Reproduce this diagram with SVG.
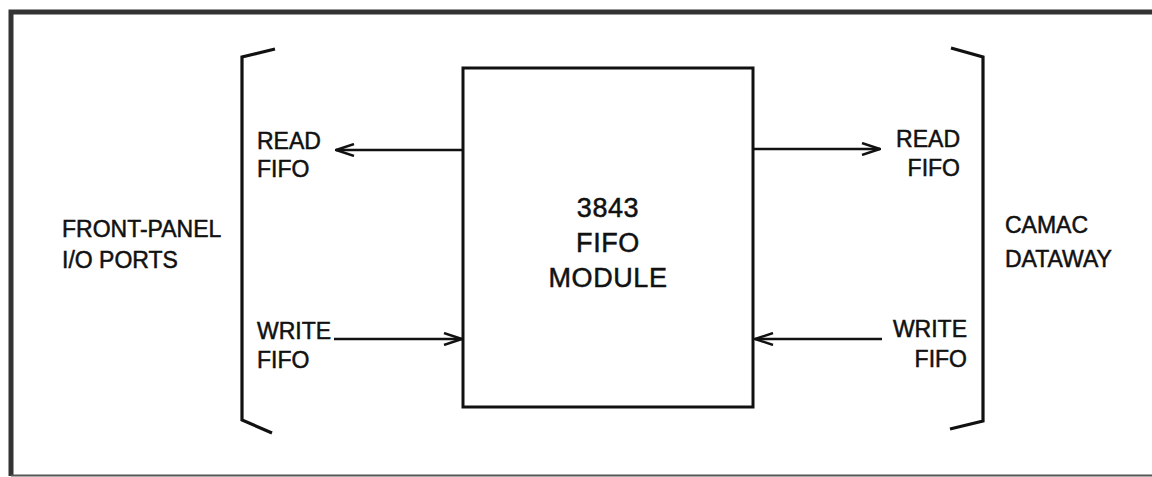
<svg xmlns="http://www.w3.org/2000/svg" width="1152" height="477" viewBox="0 0 1152 477">
<defs>
<marker id="arr" viewBox="0 0 20 14" refX="19" refY="7" markerWidth="20" markerHeight="14" markerUnits="userSpaceOnUse" orient="auto">
<path d="M1,1 L19,7 L1,13" fill="none" stroke="#111" stroke-width="2.4"/>
</marker>
</defs>
<style>
.t{font-family:"Liberation Sans",Arial,sans-serif;font-size:23px;fill:#111;stroke:#111;stroke-width:0.5px}
.big{font-size:27px;letter-spacing:0.6px}
.br{fill:none;stroke:#111;stroke-width:3.2;stroke-linejoin:miter}
.c{fill:none;stroke:#111;stroke-width:2.5}
</style>
<rect width="1152" height="477" fill="#fff"/>
<g id="frame">
<path d="M1152,12 H11 V476" fill="none" stroke="#333" stroke-width="5"/>
<path d="M11,475.5 H1152" fill="none" stroke="#555" stroke-width="2"/>
</g>
<g id="left-bracket">
<path class="br" d="M275,49 L242,57 V420 L272,433"/>
<text class="t" x="62" y="237">FRONT-PANEL</text>
<text class="t" x="62" y="268">I/O PORTS</text>
</g>
<g id="right-bracket">
<path class="br" d="M951,48 L983,57 V421 L950,429"/>
<text class="t" x="1005" y="233">CAMAC</text>
<text class="t" x="1005" y="267">DATAWAY</text>
</g>
<g id="module">
<rect x="463" y="68" width="290" height="339" fill="none" stroke="#111" stroke-width="3"/>
<text class="t big" x="608" y="217" text-anchor="middle">3843</text>
<text class="t big" x="608" y="252" text-anchor="middle">FIFO</text>
<text class="t big" x="608" y="287" text-anchor="middle">MODULE</text>
</g>
<g id="labels-left">
<text class="t" x="257" y="149">READ</text>
<text class="t" x="257" y="177">FIFO</text>
<text class="t" x="257" y="339">WRITE</text>
<text class="t" x="257" y="368">FIFO</text>
</g>
<g id="labels-right">
<text class="t" x="960" y="147" text-anchor="end">READ</text>
<text class="t" x="960" y="176" text-anchor="end">FIFO</text>
<text class="t" x="967" y="337" text-anchor="end">WRITE</text>
<text class="t" x="967" y="367" text-anchor="end">FIFO</text>
</g>
<g id="connectors">
<line class="c" x1="463" y1="150" x2="336" y2="150" marker-end="url(#arr)"/>
<line class="c" x1="753" y1="149" x2="880" y2="149" marker-end="url(#arr)"/>
<line class="c" x1="334" y1="339" x2="462" y2="339" marker-end="url(#arr)"/>
<line class="c" x1="882" y1="339" x2="755" y2="339" marker-end="url(#arr)"/>
</g>
</svg>
